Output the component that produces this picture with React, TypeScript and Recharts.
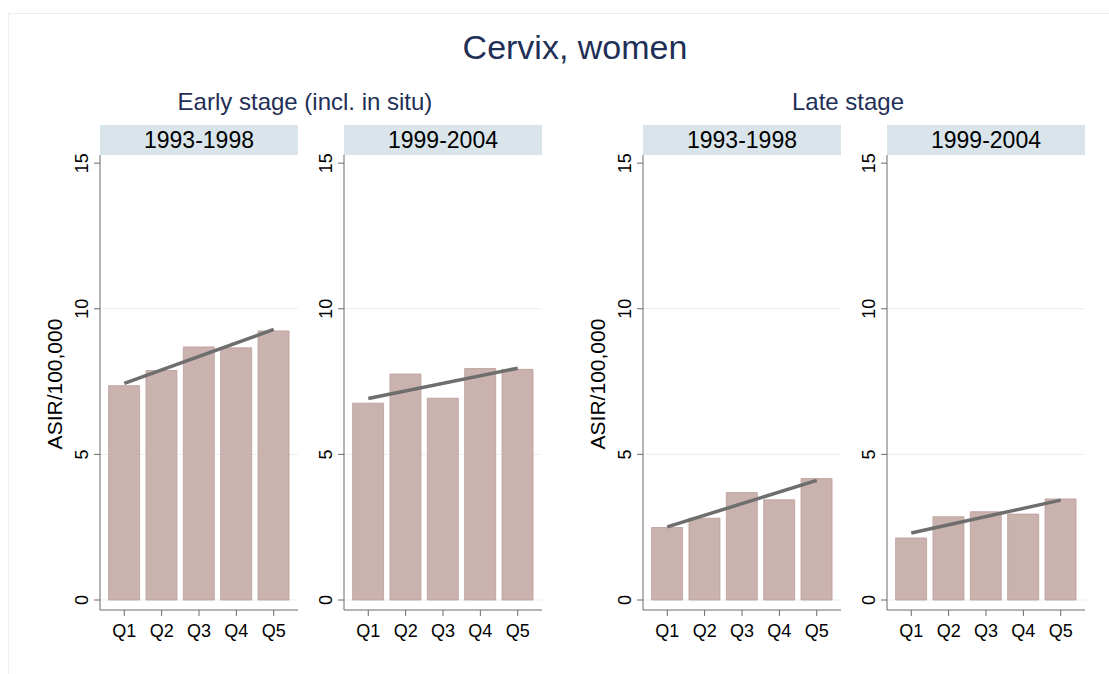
import React from 'react';
import { ComposedChart, Bar, Line, XAxis, YAxis, CartesianGrid } from 'recharts';

const quintiles = ['Q1', 'Q2', 'Q3', 'Q4', 'Q5'];
const periods = ['1993-1998', '1999-2004'];
const stages = ['Early stage (incl. in situ)', 'Late stage'];
const yTicks = [0, 5, 10, 15];

// ASIR per 100,000 by deprivation quintile
const earlyFirst = [7.36, 7.88, 8.69, 8.66, 9.24];
const earlySecond = [6.76, 7.76, 6.93, 7.95, 7.92];
const lateFirst = [2.49, 2.81, 3.69, 3.44, 4.17];
const lateSecond = [2.13, 2.86, 3.03, 2.95, 3.47];

// fitted trend, only the end points are drawn
const earlyFirstTrend = [7.44, null, null, null, 9.29];
const earlySecondTrend = [6.92, null, null, null, 7.96];
const lateFirstTrend = [2.51, null, null, null, 4.11];
const lateSecondTrend = [2.3, null, null, null, 3.43];

const FONT = '"Liberation Sans", Arial, Helvetica, sans-serif';
const NAVY = '#1f2f56';
const AXIS = '#6a6a6a';

const buildRows = (vals: number[], trend: (number | null)[]) =>
  quintiles.map((q, i) => ({ q, rate: vals[i], trend: trend[i] }));

const YTick = (props: any) => {
  const { x, y, payload } = props;
  return (
    <text
      x={x}
      y={y}
      dy={-4}
      transform={`rotate(-90, ${x}, ${y})`}
      textAnchor="middle"
      fontSize={18}
      fontFamily={FONT}
      fill="#000"
    >
      {payload.value}
    </text>
  );
};

const XTick = (props: any) => {
  const { x, y, payload } = props;
  return (
    <text x={x} y={y} dy={13} textAnchor="middle" fontSize={18} fontFamily={FONT} fill="#000">
      {payload.value}
    </text>
  );
};

interface PanelProps {
  left: number;
  period: string;
  vals: number[];
  trend: (number | null)[];
}

const Panel: React.FC<PanelProps> = ({ left, period, vals, trend }) => {
  const data = buildRows(vals, trend);
  return (
    <>
      <div
        style={{
          position: 'absolute',
          left: left + 40,
          top: 125,
          width: 198,
          height: 30,
          background: '#d9e5eb',
          fontFamily: FONT,
          fontSize: 23,
          lineHeight: '30px',
          textAlign: 'center',
          color: '#000',
        }}
      >
        {period}
      </div>
      <div style={{ position: 'absolute', left, top: 145 }}>
        <ComposedChart
          width={250}
          height={505}
          data={data}
          margin={{ top: 10, right: 12, bottom: 0, left: 0 }}
        >
          <CartesianGrid
            vertical={false}
            horizontalValues={[0, 5, 10]}
            stroke="#e6eff1"
          />
          <XAxis
            dataKey="q"
            height={40}
            padding={{ left: 5.6, right: 5.6 }}
            stroke={AXIS}
            tickSize={6}
            tickMargin={8}
            tick={<XTick />}
          />
          <YAxis
            width={40}
            domain={[0, 15.28]}
            ticks={yTicks}
            padding={{ bottom: 10 }}
            stroke={AXIS}
            tickSize={6}
            tick={<YTick />}
          />
          <Bar
            dataKey="rate"
            barSize={31}
            fill="#cab3af"
            stroke="#bc9d98"
            strokeWidth={0.8}
            isAnimationActive={false}
          />
          <Line
            dataKey="trend"
            connectNulls
            stroke="#6e6e6e"
            strokeWidth={3.5}
            dot={false}
            activeDot={false}
            isAnimationActive={false}
          />
        </ComposedChart>
      </div>
    </>
  );
};

export default function App() {
  return (
    <div
      style={{
        position: 'absolute',
        left: 0,
        top: 0,
        width: 1109,
        height: 674,
        background: '#fff',
        overflow: 'hidden',
      }}
    >
      <div
        style={{
          position: 'absolute',
          left: 8,
          top: 13,
          width: 1120,
          height: 680,
          borderLeft: '1px solid #eeeeee',
          borderTop: '1px solid #eeeeee',
        }}
      />
      <svg
        width={1109}
        height={674}
        style={{ position: 'absolute', left: 0, top: 0, pointerEvents: 'none' }}
      >
        <text x={575} y={59} textAnchor="middle" fontSize={34} fontFamily={FONT} fill={NAVY}>
          Cervix, women
        </text>
        <text x={305} y={110} textAnchor="middle" fontSize={24} fontFamily={FONT} fill={NAVY}>
          {stages[0]}
        </text>
        <text x={848} y={110} textAnchor="middle" fontSize={24} fontFamily={FONT} fill={NAVY}>
          {stages[1]}
        </text>
        <text
          x={62}
          y={384}
          transform="rotate(-90, 62, 384)"
          textAnchor="middle"
          fontSize={21}
          fontFamily={FONT}
          fill="#000"
        >
          ASIR/100,000
        </text>
        <text
          x={605}
          y={384}
          transform="rotate(-90, 605, 384)"
          textAnchor="middle"
          fontSize={21}
          fontFamily={FONT}
          fill="#000"
        >
          ASIR/100,000
        </text>
      </svg>
      <Panel left={60} period={periods[0]} vals={earlyFirst} trend={earlyFirstTrend} />
      <Panel left={304} period={periods[1]} vals={earlySecond} trend={earlySecondTrend} />
      <Panel left={603} period={periods[0]} vals={lateFirst} trend={lateFirstTrend} />
      <Panel left={847} period={periods[1]} vals={lateSecond} trend={lateSecondTrend} />
    </div>
  );
}
